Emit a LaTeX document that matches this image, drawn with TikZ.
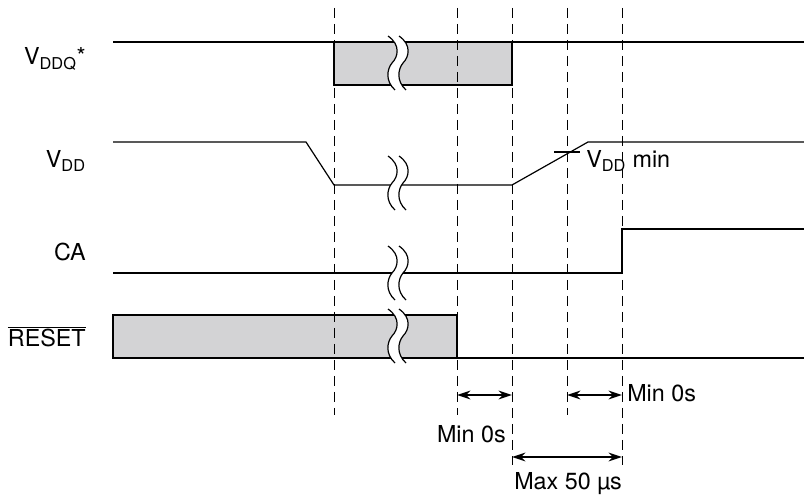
\documentclass[tikz,border=0pt]{standalone}
\usepackage{fontspec}
\setmainfont{TeX Gyre Heros}
\usetikzlibrary{arrows.meta}

\definecolor{boxgray}{RGB}{211,211,213}

\tikzset{
  sigline/.style={line width=0.9pt, line join=miter},
  timeline/.style={line width=0.7pt, dash pattern=on 7.5pt off 4.5pt},
  delay/.style={{Stealth[length=10pt,width=6.5pt]}-{Stealth[length=10pt,width=6.5pt]}, line width=1.7pt},
  lbl/.style={inner sep=0pt, font=\fontsize{17.5}{21}\selectfont},
}

% break mark across a signal, #1 = y centre
\newcommand{\signalbreak}[1]{%
  \begin{scope}[shift={(388,{#1-27})}]
    \fill[white] (0,0) .. controls (13,9) and (10,21) .. (4,27) .. controls (-1,33) and (-3,45) .. (7,54)
      -- (18,54) .. controls (8,45) and (10,33) .. (15,27) .. controls (21,21) and (24,9) .. (11,0) -- cycle;
    \draw[sigline] (0,0) .. controls (13,9) and (10,21) .. (4,27) .. controls (-1,33) and (-3,45) .. (7,54);
    \draw[sigline] (11,0) .. controls (24,9) and (21,21) .. (15,27) .. controls (10,33) and (8,45) .. (18,54);
  \end{scope}}

\begin{document}
\begin{tikzpicture}[x=0.75pt, y=-0.75pt]
\useasboundingbox (0,0) rectangle (804,495);

\def\xl{113}
\def\xr{804}
\def\ta{334}
\def\tb{457}
\def\tc{512}
\def\td{567}
\def\te{622}

% VDDQ
\fill[boxgray] (\ta,42) rectangle (\tc,85);
\draw[sigline] (\xl,42) -- (\xr,42);
\draw[sigline] (\ta,42) -- (\ta,85) -- (\tc,85) -- (\tc,42);

% VDD
\draw[sigline] (\xl,142) -- (306,142) -- (\ta,185) -- (\tc,185) -- (588,142) -- (\xr,142);
\draw[sigline] (554,152) -- (580,152);

% CA
\draw[sigline] (\xl,273) -- (\te,273) -- (\te,229) -- (\xr,229);

% RESET
\fill[boxgray] (\xl,315) rectangle (\tb,358);
\draw[sigline] (\tb,358) -- (\xl,358) -- (\xl,315) -- (\tb,315) -- (\tb,358) -- (\xr,358);

\signalbreak{63}
\signalbreak{183}
\signalbreak{273}
\signalbreak{336}

% time marks
\foreach \x/\yb in {\ta/415, \tb/415, \tc/465, \td/415, \te/465}
  \draw[timeline] (\x,8) -- (\x,\yb);

\coordinate (M1) at (\tb,395);
\coordinate (M2) at (\tc,395);
\coordinate (N1) at (\td,395);
\coordinate (N2) at (\te,395);
\coordinate (X1) at (\tc,457);
\coordinate (X2) at (\te,457);

\draw[delay] (M1) -- (M2);
\draw[delay] (N1) -- (N2);
\draw[delay] (X1) -- (X2);

\node[lbl, anchor=base east] (vddq) at (86,65) {V\textsubscript{DDQ}*};
\node[lbl, anchor=base east] (vdd) at (86,168) {V\textsubscript{DD}};
\node[lbl, anchor=base east] (ca) at (86,261) {CA};
\node[lbl, anchor=base east] (reset) at (86,347) {$\overline{\hbox{RESET}}$};
\node[lbl, anchor=base west] (vddmin) at (586,168) {V\textsubscript{DD} min};
\node[lbl, anchor=base east] (minone) at (506,443) {Min 0s};
\node[lbl, anchor=base west] (mintwo) at (627,402) {Min 0s};
\node[lbl, anchor=base west] (maxfifty) at (514,489) {Max 50 µs};
\end{tikzpicture}
\end{document}
